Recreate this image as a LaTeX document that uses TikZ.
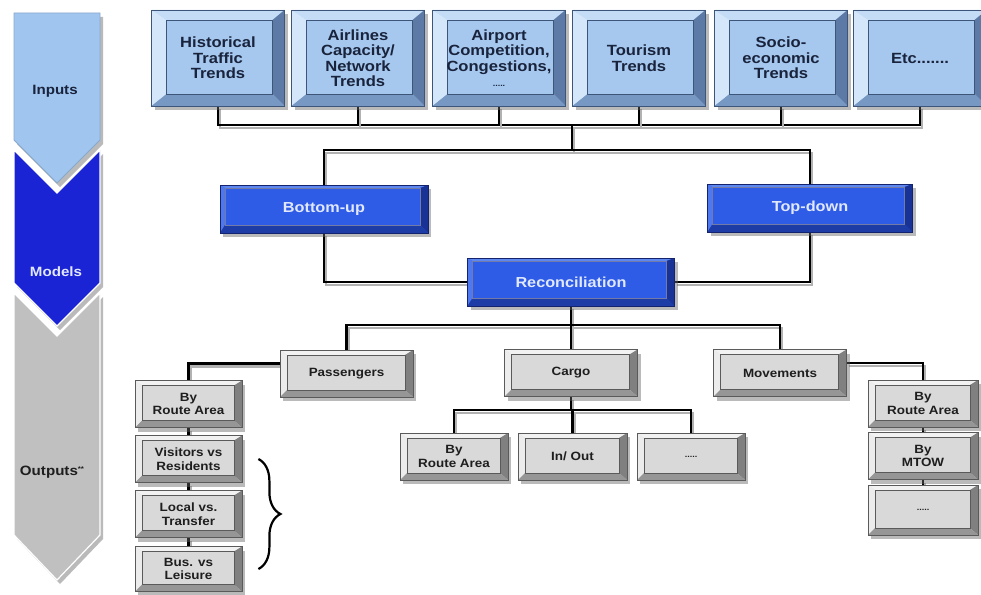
\documentclass[tikz,border=0pt]{standalone}
\usepackage{fontspec}
\newfontfamily\bx{Liberation Sans}[FakeStretch=1.12]
\usetikzlibrary{shadows,decorations.pathreplacing}
\pgfdeclarelayer{back}\pgfdeclarelayer{lines}\pgfsetlayers{back,lines,main}
\definecolor{inface}{RGB}{166,200,238}
\definecolor{intop}{RGB}{196,220,246}
\definecolor{inleft}{RGB}{212,230,250}
\definecolor{inright}{RGB}{92,122,165}
\definecolor{inbot}{RGB}{120,152,196}
\definecolor{inedge}{RGB}{60,85,120}
\definecolor{intext}{RGB}{25,35,60}
\definecolor{bface}{RGB}{46,92,230}
\definecolor{btop}{RGB}{95,135,240}
\definecolor{bleft}{RGB}{80,120,238}
\definecolor{bright}{RGB}{25,50,150}
\definecolor{bbot}{RGB}{30,60,165}
\definecolor{bedge}{RGB}{20,35,110}
\definecolor{btext}{RGB}{225,232,255}
\definecolor{gface}{RGB}{217,217,217}
\definecolor{gtop}{RGB}{242,242,242}
\definecolor{gleft}{RGB}{236,236,236}
\definecolor{gright}{RGB}{128,128,128}
\definecolor{gbot}{RGB}{150,150,150}
\definecolor{gedge}{RGB}{90,90,90}
\definecolor{gtext}{RGB}{30,30,30}
\definecolor{chin}{RGB}{160,198,240}
\definecolor{chmod}{RGB}{26,36,212}
\definecolor{chout}{RGB}{192,192,192}
\newcommand\bevelart[9]{%
 \path (path picture bounding box.north west) coordinate (pnw)
       (path picture bounding box.north east) coordinate (pne)
       (path picture bounding box.south west) coordinate (psw)
       (path picture bounding box.south east) coordinate (pse);
 \fill[#5] (pnw) -- (pne) -- ([shift={(-#2pt,-#3pt)}]pne) -- ([shift={(#1pt,-#3pt)}]pnw) -- cycle;
 \fill[#6] (pnw) -- ([shift={(#1pt,-#3pt)}]pnw) -- ([shift={(#1pt,#4pt)}]psw) -- (psw) -- cycle;
 \fill[#7] (pne) -- (pse) -- ([shift={(-#2pt,#4pt)}]pse) -- ([shift={(-#2pt,-#3pt)}]pne) -- cycle;
 \fill[#8] (psw) -- (pse) -- ([shift={(-#2pt,#4pt)}]pse) -- ([shift={(#1pt,#4pt)}]psw) -- cycle;
 \draw[#9, line width=0.6pt] ([shift={(#1pt,-#3pt)}]pnw) rectangle ([shift={(-#2pt,#4pt)}]pse);
}
\tikzset{
 shadowed/.style={drop shadow={shadow xshift=3pt, shadow yshift=-4pt, opacity=0.45, fill=black!60}},
 inbox/.style={shadowed, draw=inedge, line width=0.8pt, fill=inface, minimum width=133pt, minimum height=96pt,
   inner sep=0pt, align=center, text=intext, font=\bx\bfseries\fontsize{14.8}{15.5}\selectfont,
   path picture={\bevelart{15}{12}{10}{12}{intop}{inleft}{inright}{inbot}{inedge}}},
 bluebox/.style={shadowed, draw=bedge, line width=0.8pt, fill=bface, minimum height=48pt,
   inner sep=0pt, align=center, text=btext, font=\bx\bfseries\fontsize{14.5}{16}\selectfont,
   path picture={\bevelart{5}{8}{3}{8}{btop}{bleft}{bright}{bbot}{bedge!60}}},
 greybox/.style={shadowed, draw=gedge, line width=0.8pt, fill=gface, minimum height=47pt,
   inner sep=0pt, align=center, text=gtext, font=\bx\bfseries\fontsize{12}{13.5}\selectfont,
   path picture={\bevelart{7}{8}{5}{7}{gtop}{gleft}{gright}{gbot}{gedge}}},
 conn/.style={line width=2.5pt, black,
   preaction={draw=black!30, line width=2.6pt, transform canvas={shift={(2pt,-3pt)}}}},
 chlabel/.style={inner sep=0pt, font=\bx\bfseries\fontsize{13.5}{15}\selectfont}
}
\begin{document}
\begin{tikzpicture}[x=1pt,y=1pt]
\begin{pgfonlayer}{back}
\fill[white] (0,0) rectangle (981,-594);
\end{pgfonlayer}
\useasboundingbox (0,0) rectangle (981,-594);

% left chevrons
\fill[chout, shadowed, draw=white, line width=1.2pt] (14,-293) -- (57,-336) -- (100,-293) -- (100,-535) -- (57,-580) -- (14,-535) -- cycle;
\fill[chmod, shadowed, draw=white, line width=1.2pt] (14,-150) -- (57,-193) -- (100,-150) -- (100,-283) -- (57,-326) -- (14,-283) -- cycle;
\fill[chin, shadowed, draw=chin!85!black, line width=0.8pt] (14,-13) -- (100,-13) -- (100,-140) -- (57,-183) -- (14,-140) -- cycle;
\node[chlabel, text=intext] (lin) at (55,-91) {Inputs};
\node[chlabel, text=btext] (lmod) at (56,-272) {Models};
\node[chlabel, text=gtext] (lout) at (52,-472) {Outputs\raisebox{4pt}{\fontsize{7}{7}\selectfont**}};

% input boxes
\node[inbox] (h)   at (218,-58) {Historical\\Traffic\\Trends};
\node[inbox] (ac)  at (358,-58) {Airlines\\Capacity/\\Network\\Trends};
\node[inbox] (ap)  at (499,-58) {Airport\\Competition,\\Congestions,\\{\fontsize{8}{10}\selectfont .....}};
\node[inbox] (tt)  at (639,-58) {Tourism\\Trends};
\node[inbox] (se)  at (781,-58) {Socio-\\economic\\Trends};
\node[inbox] (etc) at (920,-58) {Etc.......};

% models
\node[bluebox, minimum width=208pt] (bu)  at (324,-209) {Bottom-up};
\node[bluebox, minimum width=205pt] (td)  at (810,-208) {Top-down};
\node[bluebox, minimum width=207pt] (rec) at (571,-282) {Reconciliation};

% outputs
\node[greybox, minimum width=133pt] (pas)   at (346.5,-373.5) {Passengers};
\node[greybox, minimum width=133pt] (cargo) at (571,-373) {Cargo};
\node[greybox, minimum width=133pt] (mov)   at (780,-373) {Movements};

\node[greybox, minimum width=107pt] (l1) at (188.5,-404) {By\\Route Area};
\node[greybox, minimum width=107pt] (l2) at (188.5,-459) {Visitors vs\\Residents};
\node[greybox, minimum width=107pt] (l3) at (188.5,-514) {Local vs.\\Transfer};
\node[greybox, minimum width=107pt, minimum height=45pt] (l4) at (188.5,-569) {Bus. vs\\Leisure};

\node[greybox, minimum width=108pt] (c1) at (454,-456.5) {By\\Route Area};
\node[greybox, minimum width=109pt] (c2) at (572.5,-456.5) {In/ Out};
\node[greybox, minimum width=108pt] (c3) at (691,-456.5) {\fontsize{8}{10}\selectfont .....};

\node[greybox, minimum width=110pt] (r1) at (923,-403.5) {By\\Route Area};
\node[greybox, minimum width=110pt] (r2) at (923,-456) {By\\MTOW};
\node[greybox, minimum width=110pt, minimum height=50pt] (r3) at (923,-510) {\fontsize{8}{10}\selectfont .....};

\coordinate (bus1) at (572,-125);
\coordinate (bus2) at (572,-150);
\coordinate (bus3) at (571,-325);
\coordinate (bus4) at (571,-410);

\begin{pgfonlayer}{lines}
\draw[conn] (h.south) -- (h.south |- bus1) -- (etc.south |- bus1) -- (etc.south);
\foreach \n in {ac,ap,tt,se} \draw[conn] (\n.south) -- (\n.south |- bus1);
\draw[conn] (bus1) -- (bus2);
\draw[conn] (bu.north) -- (bu.north |- bus2) -- (td.north |- bus2) -- (td.north);
\draw[conn] (bu.south) |- (rec.west);
\draw[conn] (td.south) |- (rec.east);
\draw[conn] (rec.south) -- (bus3);
\draw[conn] (pas.north) -- (pas.north |- bus3) -- (mov.north |- bus3) -- (mov.north);
\draw[conn] (cargo.north) -- (cargo.north |- bus3);
\draw[conn] ([yshift=10pt]pas.west) -| (l1.north);
\draw[conn] (l1.south) -- (l2.north);
\draw[conn] (l2.south) -- (l3.north);
\draw[conn] (l3.south) -- (l4.north);
\draw[conn] ([yshift=10pt]mov.east) -| (r1.north);
\draw[conn] (r1.south) -- (r2.north);
\draw[conn] (r2.south) -- (r3.north);
\draw[conn] (cargo.south) -- (bus4);
\draw[conn] (c1.north) -- (c1.north |- bus4) -- (c3.north |- bus4) -- (c3.north);
\draw[conn] (c2.north) -- (c2.north |- bus4);
\end{pgfonlayer}

\draw[line width=2.2pt, decorate, decoration={brace, amplitude=22pt}] ([xshift=16pt]l2.east) -- ([xshift=16pt]l4.east);
\end{tikzpicture}
\end{document}
